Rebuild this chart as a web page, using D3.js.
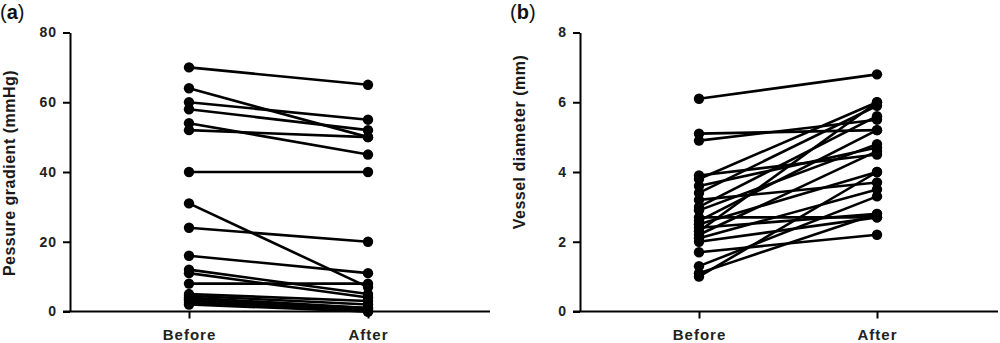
<!DOCTYPE html>
<html>
<head>
<meta charset="utf-8">
<script src="https://cdn.jsdelivr.net/npm/d3@7"></script>
<style>
  html, body { margin: 0; padding: 0; background: #fff; }
  svg { display: block; font-family: "Liberation Sans", Arial, sans-serif; }
</style>
</head>
<body>
<svg id="chart" width="1000" height="343"></svg>
<script>
// categories
const groups = ['Before', 'After']

// (a) pressure gradient, mmHg
const gradientBefore = [70, 64, 60, 58, 54, 52, 40, 31, 24, 16, 12, 11, 8, 5, 4.5, 4, 3.5, 3, 2.5, 2]
const gradientAfter = [65, 50, 55, 52, 45, 50, 40, 7, 20, 11, 5, 4, 8, 3, 2, 1, 1, 0.5, 0, 0]
const gradientTicks = [0, 20, 40, 60, 80]

// (b) vessel diameter, mm
const diameterBefore = [6.1, 5.1, 4.9, 3.9, 3.8, 3.6, 3.4, 3.2, 3.0, 2.9, 2.7, 2.6, 2.5, 2.4, 2.3, 2.2, 2.1, 2.0, 1.7, 1.3, 1.1, 1.0]
const diameterAfter = [6.8, 5.2, 5.5, 4.5, 6.0, 4.7, 5.9, 3.7, 5.6, 4.8, 2.7, 5.2, 4.0, 2.8, 6.0, 4.6, 3.5, 2.7, 2.2, 3.3, 2.8, 4.0]
const diameterTicks = [0, 2, 4, 6, 8]

const svg = d3.select('#chart')

function drawPanel(opts) {
  const { letter, title, titleY, yMax, ticks, before, after, axisX, xStart, xEnd, xBefore, xAfter } = opts
  const top = 32.5
  const bottom = 311.5

  const y = d3.scaleLinear().domain([0, yMax]).range([bottom, top])
  const x = d3.scalePoint().domain(groups).range([xBefore, xAfter])

  const g = svg.append('g')

  // y axis
  const yAxis = d3.axisLeft(y).tickValues(ticks).tickSize(7).tickSizeOuter(0).tickPadding(6)
  const yG = g.append('g').attr('transform', `translate(${axisX},0)`).call(yAxis)
  yG.select('.domain').attr('stroke', '#000').attr('stroke-width', 2)
  yG.selectAll('.tick line').attr('stroke', '#000').attr('stroke-width', 2)
  yG.selectAll('.tick text')
    .attr('fill', '#222')
    .attr('font-size', 14)
    .attr('font-weight', 'bold')
    .attr('letter-spacing', 1)
    .attr('font-family', '"Liberation Sans", Arial, sans-serif')

  // x axis
  const xAxis = d3.axisBottom(x).tickSize(7).tickPadding(11)
  const xG = g.append('g').attr('transform', `translate(0,${bottom})`).call(xAxis)
  xG.select('.domain').remove()
  xG.append('line')
    .attr('x1', xStart).attr('x2', xEnd)
    .attr('stroke', '#000').attr('stroke-width', 2)
  xG.selectAll('.tick line').attr('stroke', '#000').attr('stroke-width', 2)
  xG.selectAll('.tick text')
    .attr('fill', '#222')
    .attr('font-size', 15)
    .attr('font-weight', 'bold')
    .attr('letter-spacing', 1)
    .attr('font-family', '"Liberation Sans", Arial, sans-serif')

  // y title
  g.append('text')
    .attr('transform', `translate(${axisX - 55},${titleY}) rotate(-90)`)
    .attr('text-anchor', 'middle')
    .attr('font-size', 16)
    .attr('font-weight', 'bold')
    .attr('letter-spacing', 0.5)
    .attr('fill', '#1a1a1a')
    .text(title)

  // panel letter
  const lab = g.append('text')
    .attr('x', axisX - 70)
    .attr('y', 19)
    .attr('font-size', 20)
    .attr('fill', '#111')
  lab.append('tspan').text('(')
  lab.append('tspan').attr('font-weight', 'bold').text(letter)
  lab.append('tspan').text(')')

  // paired lines
  const pairs = before.map((b, i) => [b, after[i]])
  const line = d3.line()
    .x((d, i) => x(groups[i]))
    .y((d) => y(d))

  g.append('g')
    .selectAll('path')
    .data(pairs)
    .join('path')
    .attr('fill', 'none')
    .attr('stroke', '#000')
    .attr('stroke-width', 2.6)
    .attr('d', (d) => line(d))

  // points
  const pts = g.append('g')
  pts.selectAll('.pb')
    .data(before)
    .join('circle')
    .attr('cx', x('Before'))
    .attr('cy', (d) => y(d))
    .attr('r', 5.2)
    .attr('fill', '#000')
  pts.selectAll('.pa')
    .data(after)
    .join('circle')
    .attr('class', 'pa')
    .attr('cx', x('After'))
    .attr('cy', (d) => y(d))
    .attr('r', 5.2)
    .attr('fill', '#000')
}

drawPanel({
  letter: 'a',
  title: 'Pessure gradient (mmHg)',
  titleY: 173,
  yMax: 80,
  ticks: gradientTicks,
  before: gradientBefore,
  after: gradientAfter,
  axisX: 70,
  xStart: 63,
  xEnd: 490,
  xBefore: 189,
  xAfter: 368,
})

drawPanel({
  letter: 'b',
  title: 'Vessel diameter (mm)',
  titleY: 142,
  yMax: 8,
  ticks: diameterTicks,
  before: diameterBefore,
  after: diameterAfter,
  axisX: 580,
  xStart: 573,
  xEnd: 998,
  xBefore: 699,
  xAfter: 877,
})
</script>
</body>
</html>
